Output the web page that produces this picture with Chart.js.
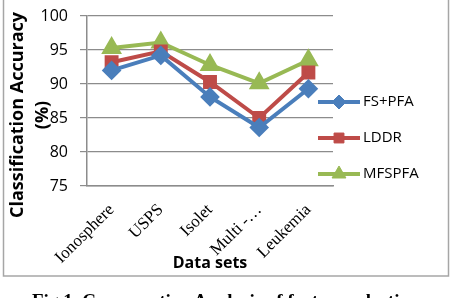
<!DOCTYPE html>
<html>
<head>
<meta charset="utf-8">
<script src="https://cdn.jsdelivr.net/npm/chart.js@4/dist/chart.umd.min.js"></script>
<style>
  body { margin: 0; background: #fff; }
  #wrap { width: 453px; height: 298px; }
</style>
</head>
<body>
<div id="wrap"><canvas id="grafico" width="453" height="298"></canvas></div>
<script>
// dados
const categorias = ["Ionosphere", "USPS", "Isolet", "Multi -…", "Leukemia"];
const fsPfa = [92.0, 94.2, 88.1, 83.6, 89.3];
const lddr = [93.2, 94.8, 90.3, 85.0, 91.7];
const mfspfa = [95.3, 96.1, 92.8, 90.1, 93.5];
const yTicks = [75, 80, 85, 90, 95, 100];
const yTitulo = ["Classification Accuracy", "(%)"];

const sans = "'Open Sans', Lato, sans-serif";
const serif = "'Liberation Serif', 'Times New Roman', serif";

// moldura, titulo do eixo y, legenda e legenda da figura
const extras = {
  id: "extras",
  beforeDraw(chart) {
    const ctx = chart.ctx;
    ctx.save();
    ctx.fillStyle = "#fff";
    ctx.fillRect(0, 0, chart.width, chart.height);
    ctx.strokeStyle = "#a6a6a6";
    ctx.lineWidth = 1.5;
    ctx.strokeRect(3.5, -2, 445, 278);
    ctx.restore();
  },
  afterDraw(chart) {
    const ctx = chart.ctx;
    ctx.save();
    // titulo do eixo y (duas linhas, sobrepoe os ticks como no original)
    ctx.fillStyle = "#000";
    ctx.font = "bold 18px " + sans;
    ctx.textAlign = "center";
    ctx.textBaseline = "middle";
    [18, 43].forEach(function(x, i) {
      ctx.save();
      ctx.translate(x, 115);
      ctx.rotate(-Math.PI / 2);
      ctx.fillText(yTitulo[i], 0, 0);
      ctx.restore();
    });

    const ys = [102, 138, 174];
    chart.data.datasets.forEach(function(ds, i) {
      const y = ys[i];
      ctx.strokeStyle = ds.borderColor;
      ctx.lineWidth = 4;
      ctx.beginPath();
      ctx.moveTo(318, y);
      ctx.lineTo(360, y);
      ctx.stroke();
      ctx.fillStyle = ds.backgroundColor;
      ctx.strokeStyle = ds.backgroundColor;
      ctx.lineWidth = 1;
      Chart.helpers.drawPoint(ctx, { pointStyle: ds.pointStyle, radius: ds.pointRadius, rotation: 0, borderWidth: 1 }, 339, y);
      ctx.fillStyle = "#000";
      ctx.font = "15px " + sans;
      ctx.textBaseline = "middle";
      ctx.textAlign = "left";
      ctx.fillText(ds.label, 363, y);
    });
    ctx.font = "bold 19px " + serif;
    ctx.textBaseline = "top";
    ctx.fillText("Fig 1. Comparative Analysis of feature selection", 32, 293);
    ctx.restore();
  }
};

new Chart(document.getElementById("grafico"), {
  type: "line",
  data: {
    labels: categorias,
    datasets: [
      { label: "FS+PFA", data: fsPfa, borderColor: "#4a7ebb", backgroundColor: "#4a7ebb", borderWidth: 4, pointStyle: "rectRot", pointRadius: 7, tension: 0 },
      { label: "LDDR", data: lddr, borderColor: "#be4b48", backgroundColor: "#be4b48", borderWidth: 4, pointStyle: "rect", pointRadius: 7, tension: 0 },
      { label: "MFSPFA", data: mfspfa, borderColor: "#98b954", backgroundColor: "#98b954", borderWidth: 4, pointStyle: "triangle", pointRadius: 8, tension: 0 }
    ]
  },
  options: {
    responsive: false,
    animation: false,
    layout: { padding: { top: 16, right: 120, left: 0, bottom: 0 } },
    plugins: { legend: { display: false }, tooltip: { enabled: false } },
    scales: {
      x: {
        offset: true,
        grid: { display: false },
        border: { display: true, color: "#8c8c8c", width: 1.5 },
        ticks: { minRotation: 45, maxRotation: 45, color: "#000", font: { family: serif, size: 17 }, padding: 6 },
        title: { display: true, text: "Data sets", color: "#000", font: { family: sans, size: 16, weight: "bold", lineHeight: 1.2 }, padding: { top: 0, bottom: 25 } },
        afterFit(scale) { scale.height = 112; }
      },
      y: {
        min: 75,
        max: 100,
        afterBuildTicks(scale) { scale.ticks = yTicks.map(v => ({ value: v })); },
        grid: { color: "#8c8c8c", lineWidth: 1.2, tickLength: 7 },
        border: { display: true, color: "#8c8c8c", width: 1.5 },
        ticks: { color: "#000", font: { family: sans, size: 16 }, padding: 12 },
        afterFit(scale) {
          scale.width = 87;
          scale.paddingTop = 4;
          scale.paddingBottom = 4;
        }
      }
    }
  },
  plugins: [extras]
});
</script>
</body>
</html>
